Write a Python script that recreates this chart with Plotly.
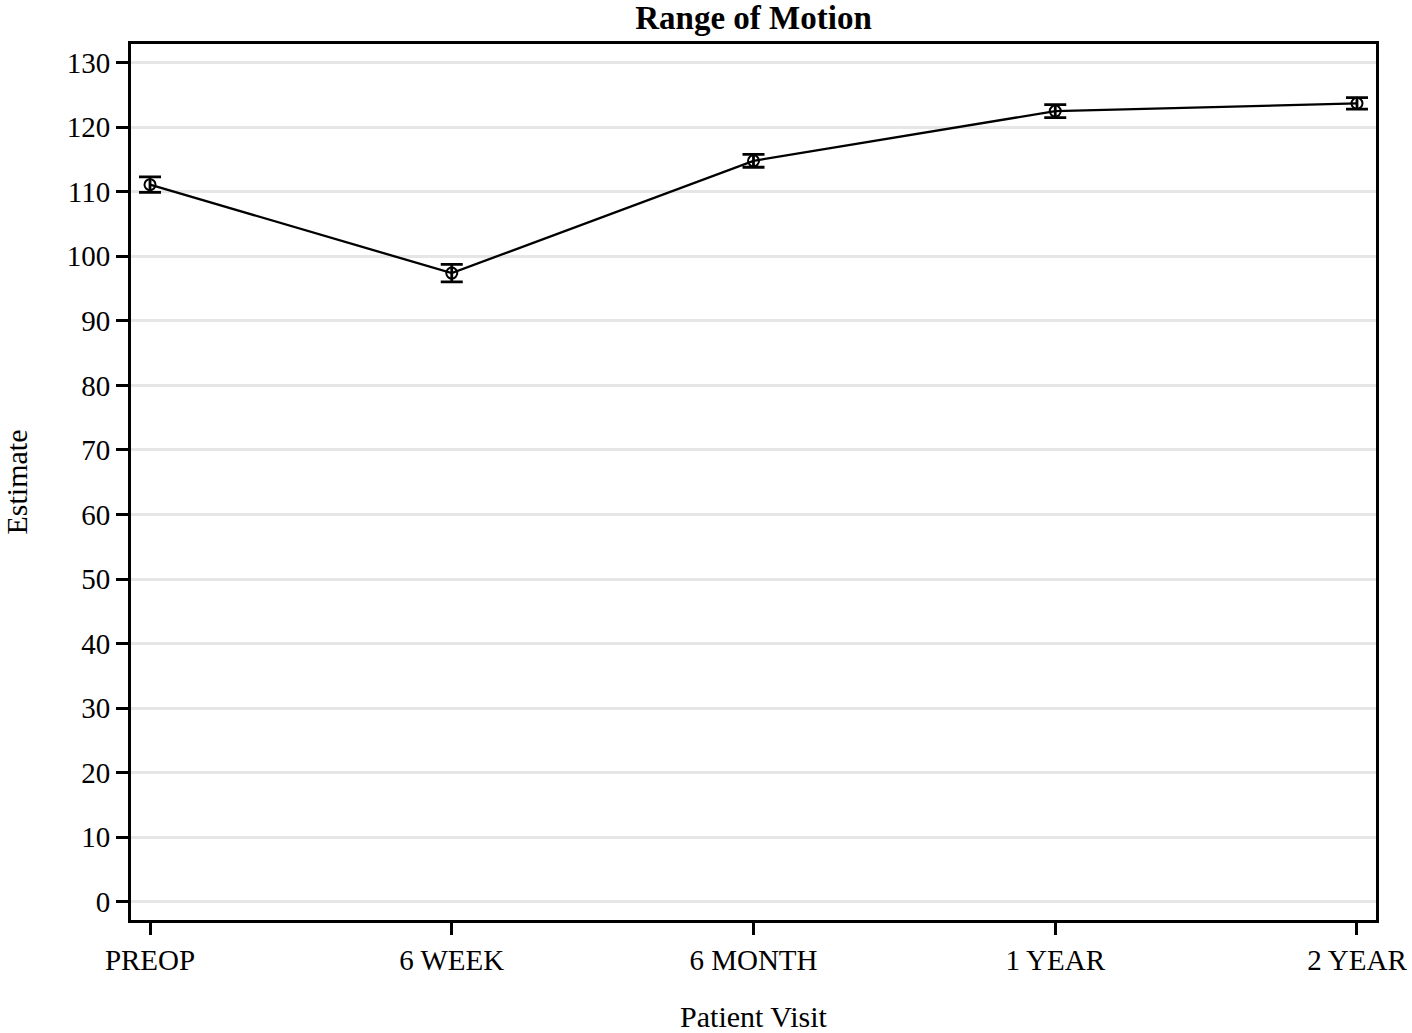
import plotly.graph_objects as go

visits = ["PREOP", "6 WEEK", "6 MONTH", "1 YEAR", "2 YEAR"]
estimate = [111.1, 97.4, 114.8, 122.5, 123.7]
err_half = [1.2, 1.35, 1.0, 1.0, 0.9]
y_ticks = list(range(0, 131, 10))

FONT = "Liberation Serif"

fig = go.Figure()
fig.add_trace(go.Scatter(
    x=list(range(len(visits))), y=estimate,
    mode="lines+markers",
    line=dict(color="black", width=2.3),
    marker=dict(symbol="circle-open", size=11, color="black", line=dict(width=2, color="black")),
    error_y=dict(type="data", array=err_half, visible=True, color="black", thickness=2.8, width=11),
    showlegend=False,
))

fig.update_layout(
    width=1412, height=1033,
    paper_bgcolor="white", plot_bgcolor="white",
    margin=dict(l=131, r=36, t=44, b=113, autoexpand=False),
    font=dict(family=FONT, color="black", size=29),
    title=dict(text="<b>Range of Motion</b>", x=(131 + 1376) / 2 / 1412, xanchor="center",
               y=1 - 17 / 1033, yanchor="middle", yref="container",
               font=dict(family=FONT, size=33, color="black")),
)
fig.update_xaxes(
    range=[-0.063, 4.063], automargin=False,
    tickmode="array", tickvals=list(range(len(visits))), ticktext=visits,
    showline=True, linecolor="black", linewidth=3, mirror=True,
    ticks="outside", ticklen=12, tickwidth=2.5, tickcolor="black",
    showgrid=False, zeroline=False,
    tickfont=dict(family=FONT, size=29),
    title=dict(text="Patient Visit", font=dict(family=FONT, size=30), standoff=37),
)
fig.update_yaxes(
    range=[-2.84, 132.9], automargin=False,
    tickmode="array", tickvals=y_ticks,
    showline=True, linecolor="black", linewidth=3, mirror=True,
    ticks="outside", ticklen=12, tickwidth=2.5, tickcolor="black",
    showgrid=True, gridcolor="#e6e6e6", gridwidth=2.5, zeroline=False,
    tickfont=dict(family=FONT, size=29),
    title=dict(text="Estimate", font=dict(family=FONT, size=30), standoff=42),
)

fig.write_html("out.html", config={"displayModeBar": False},
               post_script="document.body.style.margin='0';")
